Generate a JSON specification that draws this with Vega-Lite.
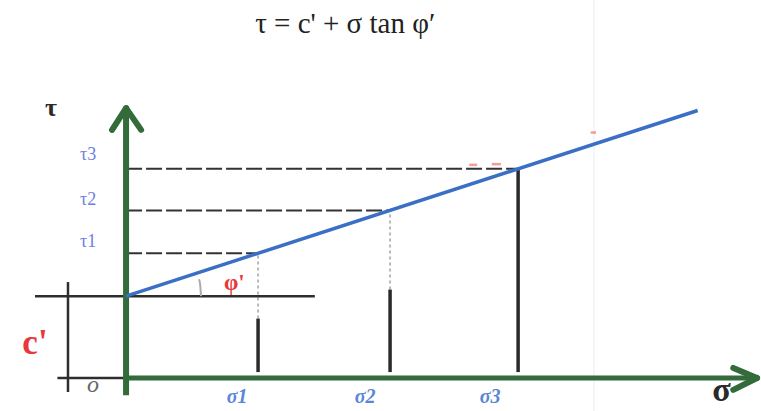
{
  "$schema": "https://vega.github.io/schema/vega-lite/v6.json",
  "width": 761,
  "height": 411,
  "padding": 0,
  "autosize": {"type": "none"},
  "background": "white",
  "config": {"view": {"stroke": null}},
  "datasets": {
    "envelope": [
      {"sigma": 0, "tau": 0.62},
      {"sigma": 4.33, "tau": 2.027}
    ],
    "tests": [
      {"name": "1", "origin": 0, "sigma": 1.0, "tau": 0.945, "lead": 0.45, "base": 0.045},
      {"name": "2", "origin": 0, "sigma": 2.0, "tau": 1.27, "lead": 0.67, "base": 0.045},
      {"name": "3", "origin": 0, "sigma": 2.97, "tau": 1.585, "lead": 1.585, "base": 0.045}
    ],
    "yaxis": [{"x": 0, "y": -0.13, "x2": 0, "y2": 2.04}],
    "xaxis": [{"x": 0, "y": 0, "x2": 4.76, "y2": 0}],
    "arrows": [
      {"x": 0, "y": 2.045, "x2": -0.106, "y2": 1.88},
      {"x": 0, "y": 2.045, "x2": 0.114, "y2": 1.88},
      {"x": 4.78, "y": 0, "x2": 4.6, "y2": 0.076},
      {"x": 4.78, "y": 0, "x2": 4.6, "y2": -0.09}
    ],
    "cohesion": [
      {"x": -0.69, "y": 0.62, "x2": 1.43, "y2": 0.62},
      {"x": -0.44, "y": -0.106, "x2": -0.44, "y2": 0.727},
      {"x": -0.52, "y": 0, "x2": 0, "y2": 0}
    ],
    "angleArc": [
      {"sigma": 0.568, "tau": 0.62},
      {"sigma": 0.561, "tau": 0.709},
      {"sigma": 0.553, "tau": 0.748}
    ],
    "redTicks": [
      {"x": 2.6, "y": 1.615, "x2": 2.66, "y2": 1.615},
      {"x": 2.77, "y": 1.62, "x2": 2.84, "y2": 1.62},
      {"x": 3.52, "y": 1.86, "x2": 3.56, "y2": 1.86}
    ],
    "tauLabels": [
      {"text": "τ3", "x": -0.288, "y": 1.689},
      {"text": "τ2", "x": -0.288, "y": 1.348},
      {"text": "τ1", "x": -0.288, "y": 1.03}
    ],
    "sigmaLabels": [
      {"text": "σ1", "x": 0.841, "y": -0.144},
      {"text": "σ2", "x": 1.811, "y": -0.144},
      {"text": "σ3", "x": 2.758, "y": -0.144}
    ],
    "axisNames": [
      {"text": "τ", "x": -0.568, "y": 2.045, "size": 26},
      {"text": "σ", "x": 4.51, "y": -0.1, "size": 34}
    ],
    "cohesionLabel": [{"text": "c'", "x": -0.69, "y": 0.265}],
    "angleLabel": [{"text": "φ'", "x": 0.82, "y": 0.72}],
    "originLabel": [{"text": "o", "x": -0.25, "y": -0.055}],
    "title": [{"text": "τ = c' + σ tan φ′", "x": 1.66, "y": 2.68}],
    "grid": [{"x": 3.545, "y": -0.25, "y2": 2.864}]
  },
  "layer": [
    {
      "data": {"name": "grid"},
      "mark": {"type": "rule", "color": "#ececec", "strokeWidth": 1},
      "encoding": {
        "x": {"field": "x", "type": "quantitative", "scale": {"domain": [-0.955, 4.81], "nice": false, "zero": false}, "axis": null},
        "y": {"field": "y", "type": "quantitative", "scale": {"domain": [-0.25, 2.864], "nice": false, "zero": false}, "axis": null},
        "y2": {"field": "y2"}
      }
    },
    {
      "data": {"name": "tests"},
      "mark": {"type": "rule", "color": "#333333", "strokeWidth": 2, "strokeDash": [16, 4]},
      "encoding": {
        "x": {"field": "origin", "type": "quantitative", "scale": {"domain": [-0.955, 4.81], "nice": false, "zero": false}, "axis": null},
        "x2": {"field": "sigma"},
        "y": {"field": "tau", "type": "quantitative", "scale": {"domain": [-0.25, 2.864], "nice": false, "zero": false}, "axis": null}
      }
    },
    {
      "data": {"name": "tests"},
      "mark": {"type": "rule", "color": "#b8b8b8", "strokeWidth": 2, "strokeDash": [3, 3]},
      "encoding": {
        "x": {"field": "sigma", "type": "quantitative", "scale": {"domain": [-0.955, 4.81], "nice": false, "zero": false}, "axis": null},
        "y": {"field": "lead", "type": "quantitative", "scale": {"domain": [-0.25, 2.864], "nice": false, "zero": false}, "axis": null},
        "y2": {"field": "tau"}
      }
    },
    {
      "data": {"name": "tests"},
      "mark": {"type": "rule", "color": "#2a2a2a", "strokeWidth": 3.5},
      "encoding": {
        "x": {"field": "sigma", "type": "quantitative", "scale": {"domain": [-0.955, 4.81], "nice": false, "zero": false}, "axis": null},
        "y": {"field": "base", "type": "quantitative", "scale": {"domain": [-0.25, 2.864], "nice": false, "zero": false}, "axis": null},
        "y2": {"field": "lead"}
      }
    },
    {
      "data": {"name": "cohesion"},
      "mark": {"type": "rule", "color": "#2e2e2e", "strokeWidth": 2.5},
      "encoding": {
        "x": {"field": "x", "type": "quantitative", "scale": {"domain": [-0.955, 4.81], "nice": false, "zero": false}, "axis": null},
        "y": {"field": "y", "type": "quantitative", "scale": {"domain": [-0.25, 2.864], "nice": false, "zero": false}, "axis": null},
        "x2": {"field": "x2"},
        "y2": {"field": "y2"}
      }
    },
    {
      "data": {"name": "angleArc"},
      "mark": {"type": "line", "color": "#aaaaaa", "strokeWidth": 2, "interpolate": "monotone"},
      "encoding": {
        "x": {"field": "sigma", "type": "quantitative", "scale": {"domain": [-0.955, 4.81], "nice": false, "zero": false}, "axis": null},
        "y": {"field": "tau", "type": "quantitative", "scale": {"domain": [-0.25, 2.864], "nice": false, "zero": false}, "axis": null},
        "order": {"field": "tau", "type": "quantitative"}
      }
    },
    {
      "data": {"name": "redTicks"},
      "mark": {"type": "rule", "color": "#f07070", "strokeWidth": 2.5, "opacity": 0.7},
      "encoding": {
        "x": {"field": "x", "type": "quantitative", "scale": {"domain": [-0.955, 4.81], "nice": false, "zero": false}, "axis": null},
        "y": {"field": "y", "type": "quantitative", "scale": {"domain": [-0.25, 2.864], "nice": false, "zero": false}, "axis": null},
        "x2": {"field": "x2"},
        "y2": {"field": "y2"}
      }
    },
    {
      "data": {"name": "yaxis"},
      "mark": {"type": "rule", "color": "#336b3b", "strokeWidth": 6},
      "encoding": {
        "x": {"field": "x", "type": "quantitative", "scale": {"domain": [-0.955, 4.81], "nice": false, "zero": false}, "axis": null},
        "y": {"field": "y", "type": "quantitative", "scale": {"domain": [-0.25, 2.864], "nice": false, "zero": false}, "axis": null},
        "x2": {"field": "x2"},
        "y2": {"field": "y2"}
      }
    },
    {
      "data": {"name": "xaxis"},
      "mark": {"type": "rule", "color": "#336b3b", "strokeWidth": 5},
      "encoding": {
        "x": {"field": "x", "type": "quantitative", "scale": {"domain": [-0.955, 4.81], "nice": false, "zero": false}, "axis": null},
        "y": {"field": "y", "type": "quantitative", "scale": {"domain": [-0.25, 2.864], "nice": false, "zero": false}, "axis": null},
        "x2": {"field": "x2"},
        "y2": {"field": "y2"}
      }
    },
    {
      "data": {"name": "arrows"},
      "mark": {"type": "rule", "color": "#336b3b", "strokeWidth": 6, "strokeCap": "round"},
      "encoding": {
        "x": {"field": "x", "type": "quantitative", "scale": {"domain": [-0.955, 4.81], "nice": false, "zero": false}, "axis": null},
        "y": {"field": "y", "type": "quantitative", "scale": {"domain": [-0.25, 2.864], "nice": false, "zero": false}, "axis": null},
        "x2": {"field": "x2"},
        "y2": {"field": "y2"}
      }
    },
    {
      "data": {"name": "envelope"},
      "mark": {"type": "line", "color": "#3b6fc6", "strokeWidth": 3.5},
      "encoding": {
        "x": {"field": "sigma", "type": "quantitative", "scale": {"domain": [-0.955, 4.81], "nice": false, "zero": false}, "axis": null},
        "y": {"field": "tau", "type": "quantitative", "scale": {"domain": [-0.25, 2.864], "nice": false, "zero": false}, "axis": null}
      }
    },
    {
      "data": {"name": "tauLabels"},
      "mark": {"type": "text", "font": "Liberation Serif", "fontSize": 18, "color": "#6d7ee0", "align": "center", "baseline": "middle"},
      "encoding": {
        "x": {"field": "x", "type": "quantitative", "scale": {"domain": [-0.955, 4.81], "nice": false, "zero": false}, "axis": null},
        "y": {"field": "y", "type": "quantitative", "scale": {"domain": [-0.25, 2.864], "nice": false, "zero": false}, "axis": null},
        "text": {"field": "text", "type": "nominal"}
      }
    },
    {
      "data": {"name": "sigmaLabels"},
      "mark": {"type": "text", "font": "Liberation Serif", "fontSize": 20, "fontWeight": "bold", "fontStyle": "italic", "color": "#5a86d8", "align": "center", "baseline": "middle"},
      "encoding": {
        "x": {"field": "x", "type": "quantitative", "scale": {"domain": [-0.955, 4.81], "nice": false, "zero": false}, "axis": null},
        "y": {"field": "y", "type": "quantitative", "scale": {"domain": [-0.25, 2.864], "nice": false, "zero": false}, "axis": null},
        "text": {"field": "text", "type": "nominal"}
      }
    },
    {
      "data": {"name": "axisNames"},
      "mark": {"type": "text", "font": "Liberation Serif", "fontWeight": "bold", "color": "#2a2a2a", "align": "center", "baseline": "middle"},
      "encoding": {
        "x": {"field": "x", "type": "quantitative", "scale": {"domain": [-0.955, 4.81], "nice": false, "zero": false}, "axis": null},
        "y": {"field": "y", "type": "quantitative", "scale": {"domain": [-0.25, 2.864], "nice": false, "zero": false}, "axis": null},
        "text": {"field": "text", "type": "nominal"},
        "size": {"field": "size", "type": "quantitative", "scale": null, "legend": null}
      }
    },
    {
      "data": {"name": "cohesionLabel"},
      "mark": {"type": "text", "font": "Liberation Serif", "fontSize": 35, "fontWeight": "bold", "color": "#e8383a", "align": "center", "baseline": "middle"},
      "encoding": {
        "x": {"field": "x", "type": "quantitative", "scale": {"domain": [-0.955, 4.81], "nice": false, "zero": false}, "axis": null},
        "y": {"field": "y", "type": "quantitative", "scale": {"domain": [-0.25, 2.864], "nice": false, "zero": false}, "axis": null},
        "text": {"field": "text", "type": "nominal"}
      }
    },
    {
      "data": {"name": "angleLabel"},
      "mark": {"type": "text", "font": "Liberation Serif", "fontSize": 23, "fontWeight": "bold", "color": "#e8383a", "align": "center", "baseline": "middle"},
      "encoding": {
        "x": {"field": "x", "type": "quantitative", "scale": {"domain": [-0.955, 4.81], "nice": false, "zero": false}, "axis": null},
        "y": {"field": "y", "type": "quantitative", "scale": {"domain": [-0.25, 2.864], "nice": false, "zero": false}, "axis": null},
        "text": {"field": "text", "type": "nominal"}
      }
    },
    {
      "data": {"name": "originLabel"},
      "mark": {"type": "text", "font": "Liberation Serif", "fontSize": 24, "fontStyle": "italic", "color": "#666666", "align": "center", "baseline": "middle"},
      "encoding": {
        "x": {"field": "x", "type": "quantitative", "scale": {"domain": [-0.955, 4.81], "nice": false, "zero": false}, "axis": null},
        "y": {"field": "y", "type": "quantitative", "scale": {"domain": [-0.25, 2.864], "nice": false, "zero": false}, "axis": null},
        "text": {"field": "text", "type": "nominal"}
      }
    },
    {
      "data": {"name": "title"},
      "mark": {"type": "text", "font": "Liberation Serif", "fontSize": 29, "color": "#222222", "align": "center", "baseline": "middle"},
      "encoding": {
        "x": {"field": "x", "type": "quantitative", "scale": {"domain": [-0.955, 4.81], "nice": false, "zero": false}, "axis": null},
        "y": {"field": "y", "type": "quantitative", "scale": {"domain": [-0.25, 2.864], "nice": false, "zero": false}, "axis": null},
        "text": {"field": "text", "type": "nominal"}
      }
    }
  ]
}
